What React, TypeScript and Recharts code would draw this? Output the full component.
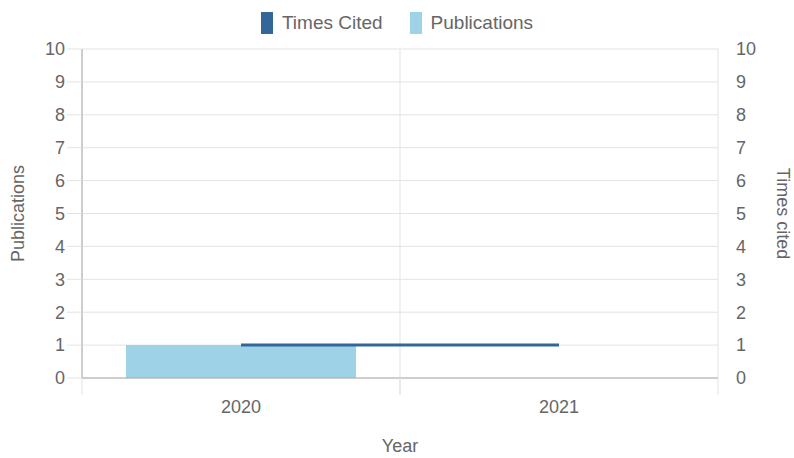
import React from 'react';
import {
  ComposedChart,
  Bar,
  Line,
  XAxis,
  YAxis,
  CartesianGrid,
  Legend,
} from 'recharts';

const years = ['2020', '2021'];
const publications = [1, 0];
const timesCited = [1, 1];
const countTicks = [0, 1, 2, 3, 4, 5, 6, 7, 8, 9, 10];

const BAR_COLOR = '#9dd2e7';
const LINE_COLOR = '#336699';
const TEXT_COLOR = '#666666';
const GRID_COLOR = '#e3e3e3';
const AXIS_COLOR = '#aaaaaa';

const data = years.map((year, i) => ({
  year,
  publications: publications[i],
  timesCited: timesCited[i],
}));

// legend drawn as narrow tall swatches, like the original
const LegendContent = () => {
  const items = [
    { label: 'Times Cited', color: LINE_COLOR },
    { label: 'Publications', color: BAR_COLOR },
  ];
  return (
    <div style={{ display: 'flex', justifyContent: 'center', gap: 27 }}>
      {items.map((it) => (
        <div key={it.label} style={{ display: 'flex', alignItems: 'center' }}>
          <span
            style={{
              display: 'inline-block',
              width: 12,
              height: 22,
              background: it.color,
              marginRight: 9,
            }}
          />
          <span style={{ fontSize: 19, color: TEXT_COLOR }}>{it.label}</span>
        </div>
      ))}
    </div>
  );
};

// category label in the middle, tick marks at the band edges
const YearTick = (props: any) => {
  const { x, y, payload } = props;
  const half = payload && payload.offset ? payload.offset : 0;
  return (
    <g>
      <line x1={x - half} x2={x - half} y1={y} y2={y + 17} stroke={GRID_COLOR} />
      <line x1={x + half} x2={x + half} y1={y} y2={y + 17} stroke={GRID_COLOR} />
      <text x={x} y={y + 35} textAnchor="middle" fill={TEXT_COLOR} fontSize={18}>
        {payload.value}
      </text>
    </g>
  );
};

export default function App() {
  return (
    <div
      style={{
        position: 'absolute',
        left: 0,
        top: 0,
        width: 794,
        height: 458,
        background: '#fff',
        fontFamily: '"Liberation Sans", Arial, sans-serif',
      }}
    >
      <ComposedChart
        width={794}
        height={458}
        data={data}
        margin={{ top: 49, right: 0, bottom: 0, left: 0 }}
      >
        <CartesianGrid
          stroke={GRID_COLOR}
          yAxisId="left"
          verticalCoordinatesGenerator={({ offset }: any) =>
            [0, ...years.map((_, i) => i + 1)].map(
              (i) => offset.left + (offset.width * i) / years.length
            )
          }
        />
        <XAxis
          dataKey="year"
          height={80}
          tickLine={false}
          tickSize={0}
          tickMargin={0}
          axisLine={{ stroke: AXIS_COLOR }}
          tick={<YearTick />}
          label={{
            value: 'Year',
            position: 'insideBottom',
            offset: 6,
            fill: TEXT_COLOR,
            fontSize: 18,
          }}
        />
        <YAxis
          yAxisId="left"
          orientation="left"
          width={82}
          domain={[0, 10]}
          ticks={countTicks}
          interval={0}
          allowDecimals={false}
          tickSize={15}
          tickMargin={2}
          tickLine={{ stroke: GRID_COLOR }}
          axisLine={{ stroke: AXIS_COLOR }}
          tick={{ fill: TEXT_COLOR, fontSize: 18 }}
          label={{
            value: 'Publications',
            angle: -90,
            position: 'insideLeft',
            offset: 18,
            fill: TEXT_COLOR,
            fontSize: 18,
            style: { textAnchor: 'middle' },
          }}
        />
        <YAxis
          yAxisId="right"
          orientation="right"
          width={76}
          domain={[0, 10]}
          ticks={countTicks}
          interval={0}
          allowDecimals={false}
          tickLine={false}
          tickSize={6}
          tickMargin={12}
          axisLine={false}
          tick={{ fill: TEXT_COLOR, fontSize: 18, textAnchor: 'start' }}
          label={{
            value: 'Times cited',
            angle: 90,
            position: 'insideRight',
            offset: 11,
            fill: TEXT_COLOR,
            fontSize: 18,
            style: { textAnchor: 'middle' },
          }}
        />
        <Legend
          verticalAlign="middle"
          align="center"
          layout="horizontal"
          wrapperStyle={{ top: 12, left: 0, width: 794 }}
          content={<LegendContent />}
        />
        <Bar
          yAxisId="left"
          dataKey="publications"
          name="Publications"
          fill={BAR_COLOR}
          barSize={230}
          isAnimationActive={false}
        />
        <Line
          yAxisId="right"
          type="linear"
          dataKey="timesCited"
          name="Times Cited"
          stroke={LINE_COLOR}
          strokeWidth={3}
          dot={false}
          activeDot={false}
          isAnimationActive={false}
        />
      </ComposedChart>
    </div>
  );
}
